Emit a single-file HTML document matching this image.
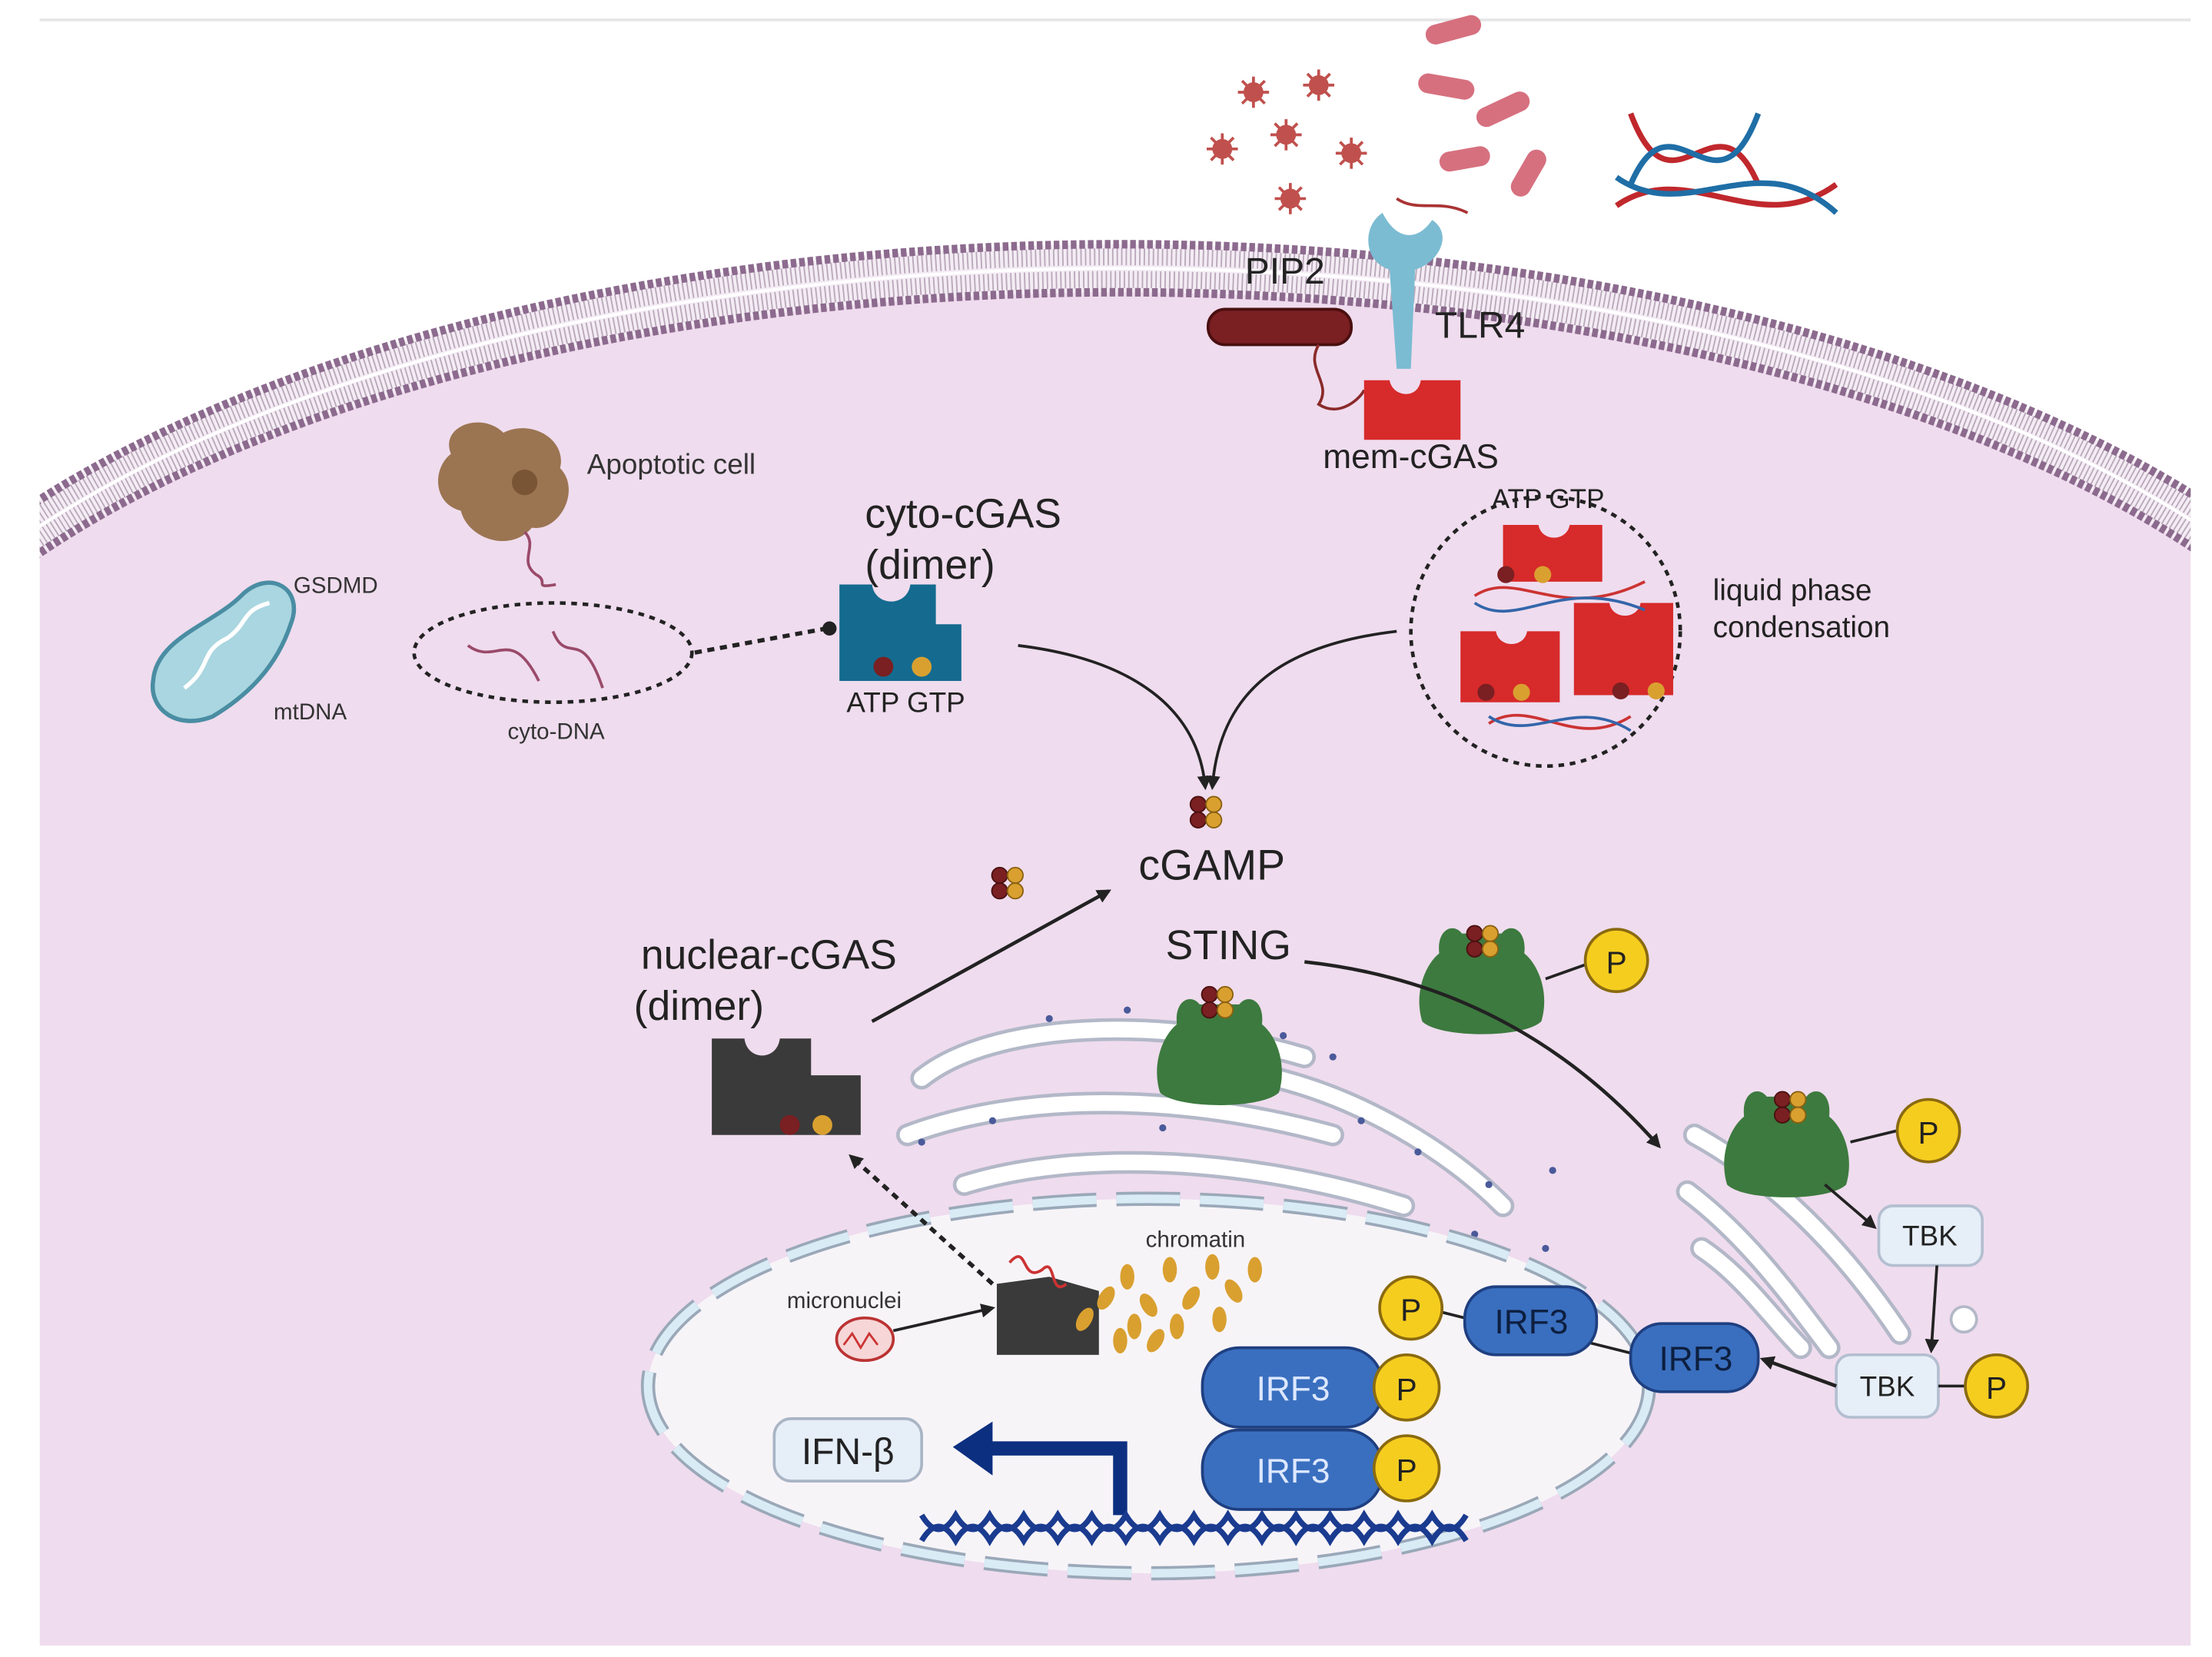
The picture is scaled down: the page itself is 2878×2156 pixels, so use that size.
<!DOCTYPE html>
<html><head><meta charset="utf-8"><style>
html,body{margin:0;padding:0;background:#fff;}
svg{display:block;}
text{font-family:"Liberation Sans",sans-serif;}
</style></head><body>
<svg width="2878" height="2156" viewBox="0 0 1560 1168" preserveAspectRatio="none" xmlns="http://www.w3.org/2000/svg">
<defs>
<clipPath id="cell"><rect x="28" y="0" width="1517" height="1160"/></clipPath>
<marker id="ah" markerWidth="10" markerHeight="10" refX="8" refY="5" orient="auto" markerUnits="userSpaceOnUse"><path d="M0,0 L10,5 L0,10 z" fill="#222"/></marker>
<g id="cg"><circle cx="-5" cy="-5" r="5.5" fill="#7a1f22" stroke="#4a1010"/><circle cx="6" cy="-5" r="5.5" fill="#d9a030" stroke="#8a6010"/><circle cx="-5" cy="6" r="5.5" fill="#7a1f22" stroke="#4a1010"/><circle cx="6" cy="6" r="5.5" fill="#d9a030" stroke="#8a6010"/></g>
<g id="green"><path d="M-42,30 C-48,10 -40,-10 -30,-18 C-32,-35 -20,-40 -14,-32 L14,-32 C20,-40 32,-35 30,-18 C40,-10 48,10 42,30 C30,42 -30,42 -42,30 z" fill="#3d7a3f"/></g>
<g id="virus"><circle r="7" fill="#c0504d"/><g stroke="#c0504d" stroke-width="2"><line x1="-11" y1="0" x2="11" y2="0"/><line x1="0" y1="-11" x2="0" y2="11"/><line x1="-8" y1="-8" x2="8" y2="8"/><line x1="-8" y1="8" x2="8" y2="-8"/></g></g>
</defs>
<rect width="1560" height="1168" fill="#fff"/>
<line x1="28" y1="14" x2="1545" y2="14" stroke="#e6e6e6" stroke-width="2"/>
<g clip-path="url(#cell)">
<path d="M28,1160 L28,351 A950,447 0 0 1 1545,351 L1545,1160 z" fill="#efdcee"/>
<g fill="none">
<path d="M-143,619 A933,430 0 0 1 1723,619" stroke="#f4ecf4" stroke-width="34"/>
<path d="M-151,619 A941,438 0 0 1 1731,619" stroke="#b9a8ba" stroke-width="12" stroke-dasharray="1 2.2"/>
<path d="M-135,619 A925,422 0 0 1 1715,619" stroke="#b9a8ba" stroke-width="12" stroke-dasharray="1 2.2"/>
<path d="M-160,619 A950,447 0 0 1 1740,619" stroke="#8c6a8e" stroke-width="6" stroke-dasharray="4 2"/>
<path d="M-126,619 A916,413 0 0 1 1706,619" stroke="#8c6a8e" stroke-width="6" stroke-dasharray="4 2"/>
<path d="M-143,619 A933,430 0 0 1 1723,619" stroke="#fff" stroke-width="2"/>
</g>
</g>
<!-- pathogens -->
<use href="#virus" x="884" y="65"/><use href="#virus" x="930" y="60"/><use href="#virus" x="907" y="95"/><use href="#virus" x="862" y="105"/><use href="#virus" x="953" y="108"/><use href="#virus" x="910" y="140"/>
<g fill="#d6707f"><rect x="1005" y="14" width="40" height="14" rx="7" transform="rotate(-15 1025 21)"/><rect x="1000" y="54" width="40" height="14" rx="7" transform="rotate(10 1020 61)"/><rect x="1040" y="70" width="40" height="14" rx="7" transform="rotate(-25 1060 77)"/><rect x="1015" y="105" width="36" height="14" rx="7" transform="rotate(-10 1033 112)"/><rect x="1060" y="115" width="36" height="14" rx="7" transform="rotate(-60 1078 122)"/></g>
<g fill="none" stroke-width="4"><path d="M1150,80 C1180,160 1210,60 1240,130" stroke="#c0282d"/><path d="M1150,130 C1180,60 1210,160 1240,80" stroke="#1f6ea6"/><path d="M1140,145 C1190,110 1240,170 1295,130" stroke="#c0282d"/><path d="M1140,125 C1190,160 1240,100 1295,150" stroke="#1f6ea6"/></g>
<!-- TLR4 -->
<path d="M975,150 C960,160 962,185 980,190 L985,260 L995,260 L998,190 C1015,185 1025,165 1010,155 C1000,170 985,170 975,150 z" fill="#7bbcd2"/>
<path d="M985,140 C1000,150 1015,140 1035,150" stroke="#a33" fill="none" stroke-width="2"/>
<text x="878" y="200" font-size="26" fill="#222">PIP2</text>
<text x="1012" y="238" font-size="26" fill="#222">TLR4</text>
<rect x="852" y="218" width="101" height="25" rx="12" fill="#7a1f22" stroke="#4a0f10" stroke-width="2"/>
<path d="M930,243 C920,260 940,270 930,285 C945,295 960,280 962,275" stroke="#8a2a2a" fill="none" stroke-width="2"/>
<path d="M962,268 L980,268 C982,280 1000,282 1002,268 L1030,268 L1030,310 L962,310 z" fill="#d72a2a"/>
<text x="933" y="330" font-size="24" fill="#222">mem-cGAS</text>
<!-- apoptotic -->
<path d="M318,320 C310,300 340,290 355,305 C375,295 400,310 395,330 C410,345 395,375 375,372 C360,390 330,380 325,360 C305,355 305,330 318,320 z" fill="#9b7552"/>
<circle cx="370" cy="340" r="9" fill="#7a5535"/>
<path d="M370,375 C380,385 365,395 378,405 C388,410 375,415 392,412" stroke="#9a4a6a" fill="none" stroke-width="2"/>
<text x="414" y="334" font-size="20" fill="#333">Apoptotic cell</text>
<!-- mitochondria -->
<path d="M108,480 C110,450 150,440 170,420 C190,400 215,415 205,440 C195,470 175,490 150,505 C125,515 105,500 108,480 z" fill="#a9d6e0" stroke="#4a8da3" stroke-width="3"/>
<path d="M130,485 C150,470 140,460 160,450 C175,440 170,430 190,425" stroke="#fff" fill="none" stroke-width="3"/>
<text x="207" y="418" font-size="16" fill="#333">GSDMD</text>
<text x="193" y="507" font-size="16" fill="#333">mtDNA</text>
<ellipse cx="390" cy="460" rx="98" ry="35" fill="none" stroke="#222" stroke-width="2.5" stroke-dasharray="4 4"/>
<path d="M330,455 C350,470 360,440 380,480 M390,445 C400,470 410,440 425,485" stroke="#9a4a6a" fill="none" stroke-width="2"/>
<text x="358" y="521" font-size="16" fill="#333">cyto-DNA</text>
<line x1="490" y1="460" x2="583" y2="443" stroke="#222" stroke-width="3" stroke-dasharray="5 4"/>
<circle cx="585" cy="443" r="5" fill="#222"/>
<!-- cyto-cGAS -->
<path d="M592,412 L615,412 C617,428 640,428 642,412 L660,412 L660,440 L678,440 L678,480 L592,480 z" fill="#146b8f"/>
<circle cx="623" cy="470" r="7" fill="#7a1f22"/><circle cx="650" cy="470" r="7" fill="#d9a030"/>
<text x="610" y="372" font-size="29" fill="#222">cyto-cGAS</text>
<text x="610" y="408" font-size="29" fill="#222">(dimer)</text>
<text x="597" y="502" font-size="20" fill="#222">ATP GTP</text>
<!-- LLPS -->
<circle cx="1090" cy="445" r="95" fill="none" stroke="#222" stroke-width="2.5" stroke-dasharray="4 4"/>
<text x="1052" y="358" font-size="19" fill="#222">ATP GTP</text>
<g fill="#d72a2a"><path d="M1060,370 L1085,370 C1087,382 1105,382 1107,370 L1130,370 L1130,410 L1060,410 z"/><path d="M1030,445 L1055,445 C1057,457 1075,457 1077,445 L1100,445 L1100,495 L1030,495 z"/><path d="M1110,425 L1135,425 C1137,437 1155,437 1157,425 L1180,425 L1180,490 L1110,490 z"/></g>
<g fill="none" stroke-width="2"><path d="M1040,420 C1070,400 1100,440 1160,410" stroke="#c33"/><path d="M1040,425 C1070,445 1100,405 1160,430" stroke="#36a"/><path d="M1050,510 C1080,490 1110,530 1150,505" stroke="#c33"/><path d="M1050,505 C1080,525 1110,490 1150,515" stroke="#36a"/></g>
<circle cx="1062" cy="405" r="6" fill="#7a1f22"/><circle cx="1088" cy="405" r="6" fill="#d9a030"/>
<circle cx="1048" cy="488" r="6" fill="#7a1f22"/><circle cx="1073" cy="488" r="6" fill="#d9a030"/>
<circle cx="1143" cy="487" r="6" fill="#7a1f22"/><circle cx="1168" cy="487" r="6" fill="#d9a030"/>
<text x="1208" y="423" font-size="21" fill="#222">liquid phase</text>
<text x="1208" y="449" font-size="21" fill="#222">condensation</text>
<!-- arrows to cGAMP -->
<path d="M718,455 C800,465 845,500 850,555" stroke="#222" stroke-width="2" fill="none" marker-end="url(#ah)"/>
<path d="M985,445 C900,455 860,490 855,555" stroke="#222" stroke-width="2" fill="none" marker-end="url(#ah)"/>
<use href="#cg" x="850" y="572"/>
<text x="803" y="620" font-size="30" fill="#222">cGAMP</text>
<use href="#cg" x="710" y="622"/>
<line x1="615" y1="720" x2="782" y2="628" stroke="#222" stroke-width="2.5" marker-end="url(#ah)"/>
<text x="452" y="683" font-size="29" fill="#222">nuclear-cGAS</text>
<text x="447" y="719" font-size="29" fill="#222">(dimer)</text>
<path d="M502,732 L525,732 C527,748 548,748 550,732 L572,732 L572,758 L607,758 L607,800 L502,800 z" fill="#3a3a3a"/>
<circle cx="557" cy="793" r="7" fill="#7a1f22"/><circle cx="580" cy="793" r="7" fill="#d9a030"/>
<!-- ER -->
<g fill="none" stroke-linecap="round">
<g stroke="#b3b8c8" stroke-width="16"><path d="M650,760 C700,720 820,715 920,745"/><path d="M640,800 C720,770 830,770 940,800"/><path d="M680,835 C760,810 880,815 990,850"/><path d="M770,870 C860,850 960,860 1050,890"/><path d="M900,760 C960,775 1020,810 1060,850"/></g>
<g stroke="#fff" stroke-width="11"><path d="M650,760 C700,720 820,715 920,745"/><path d="M640,800 C720,770 830,770 940,800"/><path d="M680,835 C760,810 880,815 990,850"/><path d="M770,870 C860,850 960,860 1050,890"/><path d="M900,760 C960,775 1020,810 1060,850"/></g>
<g stroke="#b3b8c8" stroke-width="16"><path d="M1195,800 C1250,830 1300,880 1340,940"/><path d="M1190,840 C1230,870 1260,910 1290,950"/><path d="M1200,880 C1230,900 1250,930 1270,950"/></g>
<g stroke="#fff" stroke-width="11"><path d="M1195,800 C1250,830 1300,880 1340,940"/><path d="M1190,840 C1230,870 1260,910 1290,950"/><path d="M1200,880 C1230,900 1250,930 1270,950"/></g>
</g>
<circle cx="1385" cy="930" r="9" fill="#fff" stroke="#b3b8c8" stroke-width="2"/>
<g fill="#4a5a9a"><circle cx="740" cy="718" r="2.5"/><circle cx="795" cy="712" r="2.5"/><circle cx="905" cy="730" r="2.5"/><circle cx="940" cy="745" r="2.5"/><circle cx="700" cy="790" r="2.5"/><circle cx="820" cy="795" r="2.5"/><circle cx="960" cy="790" r="2.5"/><circle cx="1000" cy="812" r="2.5"/><circle cx="650" cy="805" r="2.5"/><circle cx="1050" cy="835" r="2.5"/><circle cx="1095" cy="825" r="2.5"/><circle cx="880" cy="848" r="2.5"/><circle cx="1040" cy="870" r="2.5"/><circle cx="1090" cy="880" r="2.5"/></g>
<!-- nucleus -->
<ellipse cx="810" cy="977" rx="353" ry="132" fill="#f7f4f8"/>
<ellipse cx="810" cy="977" rx="353" ry="132" fill="none" stroke="#9aa8b8" stroke-width="10" stroke-dasharray="45 14"/>
<ellipse cx="810" cy="977" rx="353" ry="132" fill="none" stroke="#d9ebf5" stroke-width="6" stroke-dasharray="45 14"/>
<!-- STING -->
<use href="#green" x="860" y="740"/><use href="#cg" x="858" y="706"/>
<text x="822" y="676" font-size="29" fill="#222">STING</text>
<use href="#green" x="1045" y="690"/><use href="#cg" x="1045" y="663"/>
<line x1="1090" y1="690" x2="1118" y2="680" stroke="#222" stroke-width="2"/>
<circle cx="1140" cy="677" r="22" fill="#f5cd1f" stroke="#8a6a10" stroke-width="2"/><text x="1140" y="686" font-size="22" text-anchor="middle" fill="#222">P</text>
<path d="M920,678 C1030,690 1110,740 1170,808" stroke="#222" stroke-width="2.5" fill="none" marker-end="url(#ah)"/>
<use href="#green" x="1260" y="805"/><use href="#cg" x="1262" y="780"/>
<line x1="1305" y1="805" x2="1338" y2="797" stroke="#222" stroke-width="2"/>
<circle cx="1360" cy="797" r="22" fill="#f5cd1f" stroke="#8a6a10" stroke-width="2"/><text x="1360" y="806" font-size="22" text-anchor="middle" fill="#222">P</text>
<line x1="1287" y1="835" x2="1322" y2="865" stroke="#222" stroke-width="2" marker-end="url(#ah)"/>
<rect x="1325" y="850" width="73" height="42" rx="10" fill="#e6eef8" stroke="#b3bfd0" stroke-width="2"/><text x="1361" y="878" font-size="20" text-anchor="middle" fill="#222">TBK</text>
<line x1="1366" y1="892" x2="1362" y2="952" stroke="#222" stroke-width="2" marker-end="url(#ah)"/>
<rect x="1295" y="955" width="72" height="44" rx="10" fill="#e6eef8" stroke="#b3bfd0" stroke-width="2"/><text x="1331" y="984" font-size="20" text-anchor="middle" fill="#222">TBK</text>
<line x1="1367" y1="977" x2="1386" y2="977" stroke="#222" stroke-width="2"/>
<circle cx="1408" cy="977" r="22" fill="#f5cd1f" stroke="#8a6a10" stroke-width="2"/><text x="1408" y="986" font-size="22" text-anchor="middle" fill="#222">P</text>
<line x1="1295" y1="977" x2="1243" y2="958" stroke="#222" stroke-width="2.5" marker-end="url(#ah)"/>
<line x1="1115" y1="945" x2="1155" y2="955" stroke="#222" stroke-width="2"/>
<line x1="1017" y1="925" x2="1033" y2="929" stroke="#222" stroke-width="2"/>
<rect x="1033" y="907" width="93" height="48" rx="22" fill="#3a6fbf" stroke="#1f3f80" stroke-width="2"/><text x="1080" y="940" font-size="24" text-anchor="middle" fill="#0d1f40">IRF3</text>
<circle cx="995" cy="922" r="22" fill="#f5cd1f" stroke="#8a6a10" stroke-width="2"/><text x="995" y="931" font-size="22" text-anchor="middle" fill="#222">P</text>
<rect x="1150" y="933" width="90" height="48" rx="22" fill="#3a6fbf" stroke="#1f3f80" stroke-width="2"/><text x="1196" y="966" font-size="24" text-anchor="middle" fill="#0d1f40">IRF3</text>
<rect x="848" y="950" width="127" height="56" rx="26" fill="#3a6fbf" stroke="#1f3f80" stroke-width="2"/><text x="912" y="987" font-size="24" text-anchor="middle" fill="#dde8ff">IRF3</text>
<rect x="848" y="1008" width="127" height="56" rx="26" fill="#3a6fbf" stroke="#1f3f80" stroke-width="2"/><text x="912" y="1045" font-size="24" text-anchor="middle" fill="#dde8ff">IRF3</text>
<circle cx="992" cy="978" r="23" fill="#f5cd1f" stroke="#8a6a10" stroke-width="2"/><text x="992" y="987" font-size="22" text-anchor="middle" fill="#222">P</text>
<circle cx="992" cy="1035" r="23" fill="#f5cd1f" stroke="#8a6a10" stroke-width="2"/><text x="992" y="1044" font-size="22" text-anchor="middle" fill="#222">P</text>
<!-- IFN -->
<rect x="546" y="1000" width="104" height="44" rx="12" fill="#e6eef8" stroke="#a9b5c5" stroke-width="2"/><text x="598" y="1032" font-size="26" text-anchor="middle" fill="#222">IFN-β</text>
<path d="M795,1068 L795,1016 L700,1016 L700,1002 L672,1020 L700,1040 L700,1026 L785,1026 L785,1068 z" fill="#0d2f80"/>
<g fill="none" stroke="#1a3b8f" stroke-width="4"><path d="M650,1068 q12,20 24,0 q12,20 24,0 q12,20 24,0 q12,20 24,0 q12,20 24,0 q12,20 24,0 q12,20 24,0 q12,20 24,0 q12,20 24,0 q12,20 24,0 q12,20 24,0 q12,20 24,0 q12,20 24,0 q12,20 24,0 q12,20 24,0 q12,20 24,0"/><path d="M650,1086 q12,-20 24,0 q12,-20 24,0 q12,-20 24,0 q12,-20 24,0 q12,-20 24,0 q12,-20 24,0 q12,-20 24,0 q12,-20 24,0 q12,-20 24,0 q12,-20 24,0 q12,-20 24,0 q12,-20 24,0 q12,-20 24,0 q12,-20 24,0 q12,-20 24,0 q12,-20 24,0"/></g>
<!-- micronuclei / chromatin -->
<text x="555" y="922" font-size="16" fill="#333">micronuclei</text>
<ellipse cx="610" cy="944" rx="20" ry="15" fill="#f6d6d6" stroke="#b33" stroke-width="2"/>
<path d="M595,948 l6,-8 l6,10 l6,-10 l6,8" stroke="#c33" fill="none" stroke-width="1.5"/>
<line x1="630" y1="938" x2="700" y2="922" stroke="#222" stroke-width="2" marker-end="url(#ah)"/>
<path d="M703,905 L740,900 L775,910 L775,955 L703,955 z" fill="#3a3a3a"/>
<path d="M712,890 C725,875 720,905 735,895 C745,885 740,915 752,905" stroke="#c33" fill="none" stroke-width="2"/>
<line x1="700" y1="905" x2="600" y2="815" stroke="#222" stroke-width="3" stroke-dasharray="5 4" marker-end="url(#ah)"/>
<text x="808" y="879" font-size="16" fill="#333">chromatin</text>
<g fill="#d9a030"><ellipse cx="765" cy="930" rx="5" ry="9" transform="rotate(30 765 930)"/><ellipse cx="780" cy="915" rx="5" ry="9" transform="rotate(30 780 915)"/><ellipse cx="795" cy="900" rx="5" ry="9"/><ellipse cx="810" cy="920" rx="5" ry="9" transform="rotate(-30 810 920)"/><ellipse cx="825" cy="895" rx="5" ry="9"/><ellipse cx="840" cy="915" rx="5" ry="9" transform="rotate(30 840 915)"/><ellipse cx="855" cy="893" rx="5" ry="9"/><ellipse cx="870" cy="910" rx="5" ry="9" transform="rotate(-30 870 910)"/><ellipse cx="885" cy="895" rx="5" ry="9"/><ellipse cx="800" cy="935" rx="5" ry="9"/><ellipse cx="830" cy="935" rx="5" ry="9"/><ellipse cx="815" cy="945" rx="5" ry="9" transform="rotate(30 815 945)"/><ellipse cx="860" cy="930" rx="5" ry="9"/><ellipse cx="790" cy="945" rx="5" ry="9"/></g>
</svg>
</body></html>
